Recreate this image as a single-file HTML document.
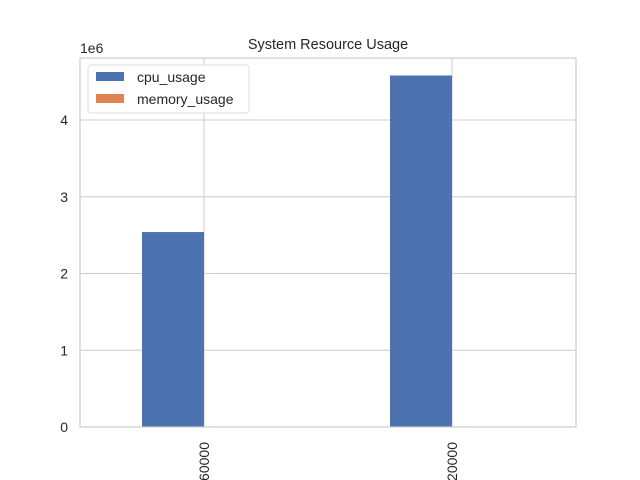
<!DOCTYPE html>
<html><head><meta charset="utf-8"><style>html,body{margin:0;background:#fff;width:640px;height:480px;overflow:hidden}svg{display:block;overflow:hidden;font-family:"Liberation Sans","DejaVu Sans",sans-serif}</style></head>
<body>
<svg id="c" width="640" height="480"><defs><clipPath id="fig"><rect x="0" y="0" width="640" height="480"/></clipPath></defs></svg>
<script>
const categories=["1700060000","1700120000"];
const cpuUsage=[2.54e6,4.58e6];
const memoryUsage=[1500,1500];
const yTicks=[0,1,2,3,4];
const svg=document.getElementById('c');
const NS='http://www.w3.org/2000/svg';
const L=80,R=576,T=58,B=427;
const y=v=>B-v/1e6*76.75;
const x=i=>L+(i+0.5)*(R-L)/categories.length;
const bw=62;
function mk(t,a,txt,p){const e=document.createElementNS(NS,t);for(const k in a)e.setAttribute(k,a[k]);if(txt!==undefined)e.textContent=txt;(p||svg).appendChild(e);return e;}
yTicks.forEach(t=>{
 const g=mk('line',{x1:L,x2:R,y1:y(t*1e6),y2:y(t*1e6),stroke:'#ccc','stroke-width':1});
 
 
 const l=mk('text',{x:L-12,y:y(t*1e6)+5,'text-anchor':'end','font-size':14,fill:'#262626'},t);
 
 
});
categories.forEach((c,i)=>{
 const g=mk('line',{x1:x(i),x2:x(i),y1:T,y2:B,stroke:'#ccc','stroke-width':1});
 
 
});
const lab=mk('g',{'clip-path':'url(#fig)'});


categories.forEach((c,i)=>{
 const b=mk('rect',{x:x(i)-bw,y:y(cpuUsage[i]),width:bw,height:B-y(cpuUsage[i]),fill:'#4c72b0'});
 
 
 const m=mk('rect',{x:x(i),y:y(memoryUsage[i]),width:bw,height:B-y(memoryUsage[i]),fill:'#dd8452'});
 
 
 const t=mk('text',{x:0,y:0,transform:`translate(${x(i)+5},442) rotate(-90)`,'text-anchor':'end','font-size':14,fill:'#262626'},c,lab);
 
 
});
const f=mk('rect',{x:L,y:T,width:R-L,height:B-T,fill:'none',stroke:'#ccc','stroke-width':1.2});


const ti=mk('text',{x:328,y:49,'text-anchor':'middle','font-size':14.5,fill:'#262626'},'System Resource Usage');


const oe=mk('text',{x:80,y:53,'font-size':14,fill:'#262626'},'1e6');


const lg=mk('rect',{x:88,y:65,width:161,height:48,rx:3,fill:'#fff','fill-opacity':0.8,stroke:'#ddd'});


[['cpu_usage','#4c72b0',77],['memory_usage','#dd8452',99]].forEach(([n,c,yy])=>{
 const s=mk('rect',{x:96,y:yy-5,width:28,height:9,fill:c});
 
 
 const t=mk('text',{x:137,y:yy+5,'font-size':14,fill:'#262626'},n);
 
 
});
</script>
</body></html>
